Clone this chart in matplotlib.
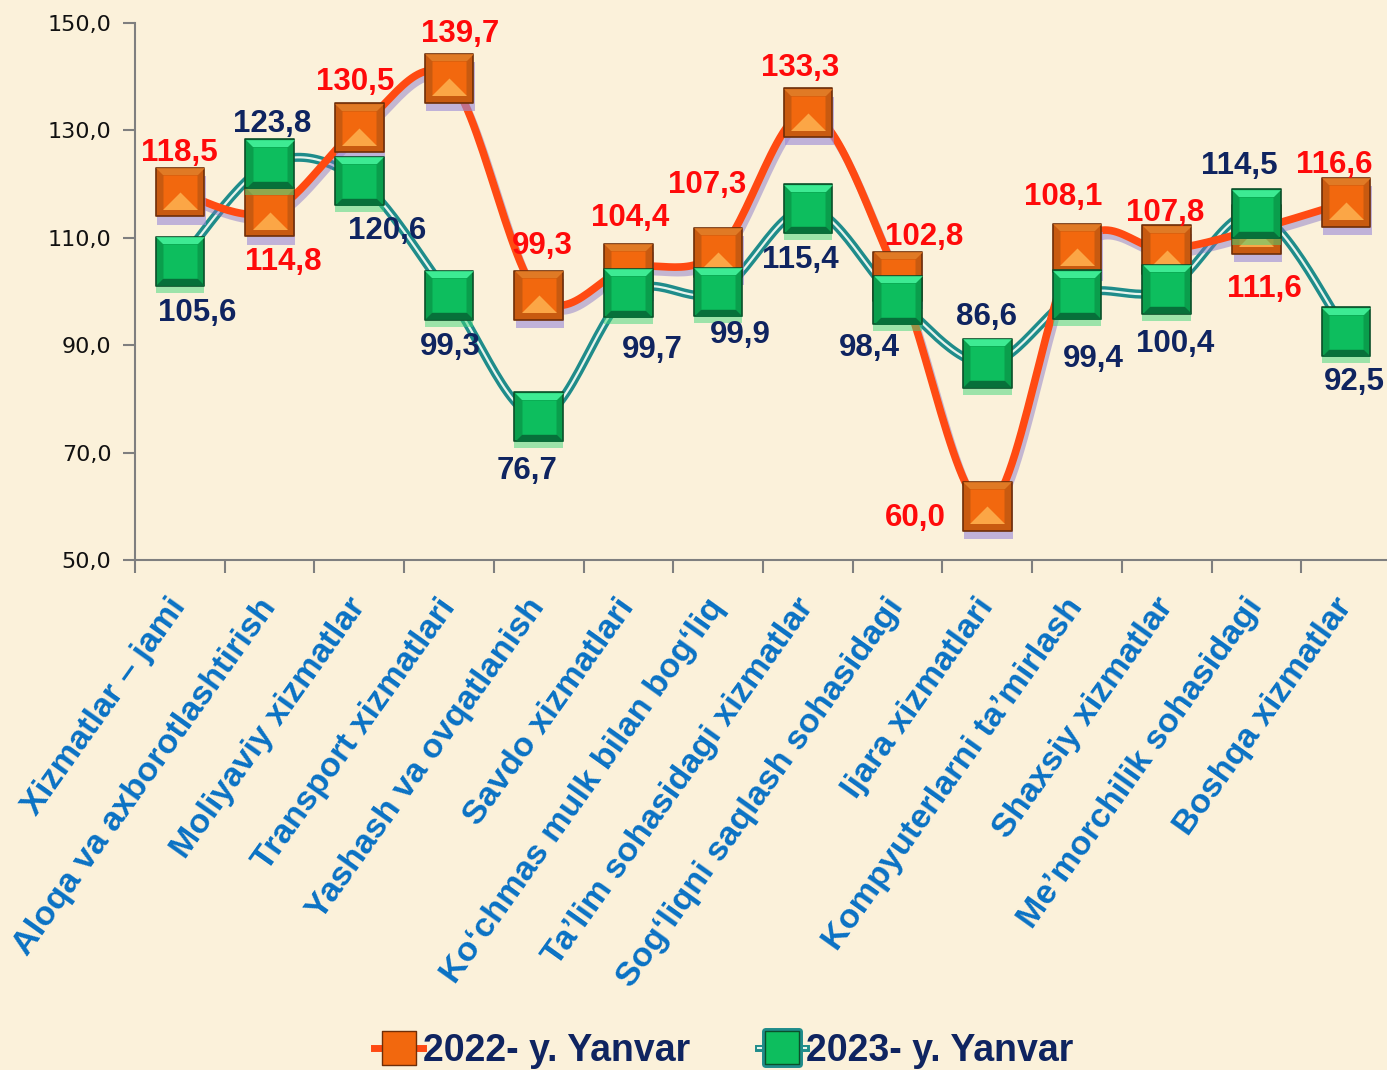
import numpy as np
import matplotlib
matplotlib.use("Agg")
import matplotlib.pyplot as plt
from matplotlib.path import Path
from matplotlib.lines import Line2D
import matplotlib.patheffects as pe

categories = ["Xizmatlar – jami", "Aloqa va axborotlashtirish", "Moliyaviy xizmatlar",
              "Transport xizmatlari", "Yashash va ovqatlanish", "Savdo xizmatlari",
              "Ko‘chmas mulk bilan bog‘liq", "Ta’lim sohasidagi xizmatlar",
              "Sog‘liqni saqlash sohasidagi", "Ijara xizmatlari",
              "Kompyuterlarni ta’mirlash", "Shaxsiy xizmatlar",
              "Me’morchilik sohasidagi", "Boshqa xizmatlar"]
v2022 = [118.5, 114.8, 130.5, 139.7, 99.3, 104.4, 107.3, 133.3, 102.8, 60.0, 108.1, 107.8, 111.6, 116.6]
v2023 = [105.6, 123.8, 120.6, 99.3, 76.7, 99.7, 99.9, 115.4, 98.4, 86.6, 99.4, 100.4, 114.5, 92.5]
series_names = ["2022- y. Yanvar", "2023- y. Yanvar"]
yticks = [50, 70, 90, 110, 130, 150]

# label offsets in pixels (dx, dy) — positioning only
off22 = [(0, 39), (14, -50), (-4, 46), (11, 44), (4, 49), (2, 50), (-11, 67), (-8, 45),
         (27, 39), (-72, -12), (-14, 51), (-2, 37), (8, -60), (-12, 37)]
off23 = [(17, -52), (3, 40), (28, -50), (1, -52), (-12, -54), (24, -57), (22, -43), (-8, -51),
         (-28, -48), (-1, 46), (16, -64), (8, -55), (-17, 48), (8, -50)]

BG = "#FBF1DA"
fig = plt.figure(figsize=(13.87, 10.70), dpi=100, facecolor=BG)
ax = fig.add_axes([135/1387, 1 - 560/1070, (1391-135)/1387, (560-23)/1070])
ax.set_facecolor(BG)

x = np.arange(len(categories))

def catmull(xs, ys, n=30):
    P = np.column_stack([xs, ys]).astype(float)
    P = np.vstack([P[0], P, P[-1]])
    out = []
    for i in range(1, len(P) - 2):
        p0, p1, p2, p3 = P[i-1], P[i], P[i+1], P[i+2]
        t = np.linspace(0, 1, n)[:, None]
        c1 = p1 + (p2 - p0) / 6
        c2 = p2 - (p3 - p1) / 6
        seg = (1-t)**3*p1 + 3*(1-t)**2*t*c1 + 3*(1-t)*t**2*c2 + t**3*p2
        out.append(seg if i == 1 else seg[1:])
    s = np.vstack(out)
    return s[:, 0], s[:, 1]

sx22, sy22 = catmull(x, v2022)
sx23, sy23 = catmull(x, v2023)

ORANGE_LINE = "#FF4A12"
TEAL = "#1F8C8A"

# 2023 line (double line)
ax.plot(sx23, sy23, color="#E8F4EC", lw=1.6, zorder=3,
        path_effects=[pe.Stroke(linewidth=6.5, foreground=TEAL), pe.Normal()])
# 2022 line with lavender shadow
ax.plot(sx22, sy22, color=ORANGE_LINE, lw=5.5, zorder=4, solid_capstyle="round",
        path_effects=[pe.SimpleLineShadow(offset=(2, -4), shadow_color="#8070C8", alpha=0.45),
                      pe.Normal()])

# bevel marker paths
sq = Path([(-1, -1), (1, -1), (1, 1), (-1, 1), (-1, -1)], closed=True)
inner = Path([(-0.72, -0.72), (0.72, -0.72), (0.72, 0.72), (-0.72, 0.72), (-0.72, -0.72)], closed=True)
botri = Path([(-0.72, -0.72), (0.72, -0.72), (0, 0), (-0.72, -0.72)], closed=True)
topbev = Path([(-1, 1), (1, 1), (0.72, 0.72), (-0.72, 0.72), (-1, 1)], closed=True)
botbev = Path([(-1, -1), (1, -1), (0.72, -0.72), (-0.72, -0.72), (-1, -1)], closed=True)

MS = 35

def draw_orange(ax, xs, ys, ms, z):
    ax.plot(xs, ys, ls="none", marker=sq, ms=ms, mfc="#C85A10", mec="#6E2E08", mew=1.2, zorder=z,
            path_effects=[pe.SimplePatchShadow(offset=(1, -6), shadow_rgbFace="#9A88D8", alpha=0.6), pe.Normal()])
    ax.plot(xs, ys, ls="none", marker=inner, ms=ms*0.72, mfc="#F2680E", mec="none", zorder=z+0.1)
    ax.plot(xs, ys, ls="none", marker=botri, ms=ms*0.72, mfc="#FBA646", mec="none", zorder=z+0.2)
    ax.plot(xs, ys, ls="none", marker=topbev, ms=ms, mfc="#E07A25", mec="none", zorder=z+0.1)

def draw_green(ax, xs, ys, ms, z):
    ax.plot(xs, ys, ls="none", marker=sq, ms=ms, mfc="#0A9E4C", mec="#0B4F2A", mew=1.2, zorder=z,
            path_effects=[pe.SimplePatchShadow(offset=(0, -5), shadow_rgbFace="#3FD77A", alpha=0.5), pe.Normal()])
    ax.plot(xs, ys, ls="none", marker=inner, ms=ms*0.72, mfc="#0DBE5E", mec="none", zorder=z+0.1)
    ax.plot(xs, ys, ls="none", marker=topbev, ms=ms, mfc="#3DEB93", mec="none", zorder=z+0.1)
    ax.plot(xs, ys, ls="none", marker=botbev, ms=ms, mfc="#07703A", mec="none", zorder=z+0.1)

draw_orange(ax, x, v2022, MS, 5)
draw_green(ax, x, v2023, MS, 6)

def fmt(v):
    return f"{v:.1f}".replace(".", ",")

for i in range(len(x)):
    ax.annotate(fmt(v2022[i]), (x[i], v2022[i]), xytext=off22[i], textcoords="offset pixels",
                ha="center", va="center", color="#FF0A0A", fontsize=22.5, fontweight="bold",
                family="Liberation Sans", zorder=10)
    ax.annotate(fmt(v2023[i]), (x[i], v2023[i]), xytext=off23[i], textcoords="offset pixels",
                ha="center", va="center", color="#0F2460", fontsize=22.5, fontweight="bold",
                family="Liberation Sans", zorder=10)

ax.set_xlim(-0.5, len(categories) - 0.5)
ax.set_ylim(50, 150)
ax.set_yticks(yticks)
ax.set_yticklabels([fmt(v) for v in yticks], fontsize=16, family="DejaVu Sans", color="#111111")
ax.set_xticks(np.arange(-0.5, len(categories), 1.0))
ax.set_xticklabels([])
ax.set_xticks(x, minor=True)
ax.set_xticklabels(categories, minor=True, rotation=54.5, ha="right", va="center",
                   rotation_mode="anchor", fontsize=24.7, fontweight="bold",
                   family="Liberation Sans", color="#0A72C4")
ax.tick_params(axis="x", which="minor", length=0, pad=30)
ax.tick_params(axis="x", which="major", length=9, width=1.5, color="#7F7F7F", direction="out")
ax.tick_params(axis="y", length=9, width=1.5, color="#7F7F7F", direction="out", pad=8)
for s in ["top", "right"]:
    ax.spines[s].set_visible(False)
for s in ["left", "bottom"]:
    ax.spines[s].set_color("#7F7F7F")
    ax.spines[s].set_linewidth(1.5)

h1 = Line2D([], [], color=ORANGE_LINE, lw=5, marker=sq, ms=24, mfc="#F2680E", mec="#6E2E08")
h2 = Line2D([], [], color="#E8F4EC", lw=1.5, marker=sq, ms=24, mfc="#0DBE5E", mec="#0B4F2A",
            path_effects=[pe.Stroke(linewidth=5, foreground=TEAL), pe.Normal()])
fig.legend([h1, h2], series_names, loc="center", bbox_to_anchor=(0.522, 0.018), ncol=2,
           frameon=False, handlelength=1.3, handletextpad=0.0, columnspacing=1.8,
           prop=dict(family="Liberation Sans", weight="bold", size=27), labelcolor="#0F2460")

fig.savefig("out.png", dpi=100, facecolor=BG)
